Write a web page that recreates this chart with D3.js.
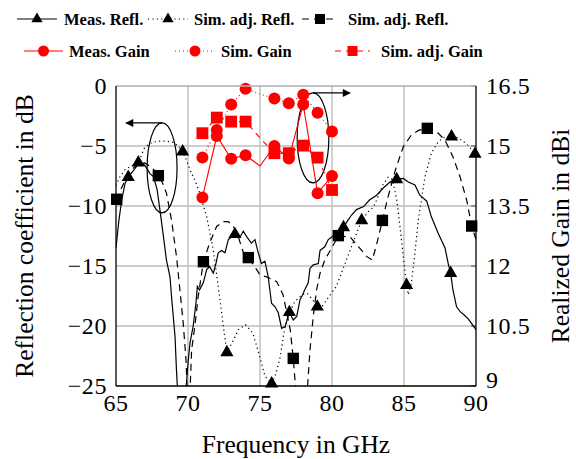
<!DOCTYPE html>
<html>
<head>
<meta charset="utf-8">
<script src="https://cdn.jsdelivr.net/npm/d3@7"></script>
<style>
body { margin: 0; background: #fff; }
text { font-family: "Liberation Serif", "DejaVu Serif", serif; }
</style>
</head>
<body>
<div class="chart"></div>
<script>
var width = 576;
var height = 459;

// data
var measReflF = [65.0, 65.2, 65.4, 65.63, 65.97, 66.3, 66.67, 67.0, 67.36, 67.6, 67.85, 68.06, 68.3, 68.5, 68.75, 68.86, 69.1, 69.2, 69.35, 69.75, 70.0, 70.14, 70.36, 70.55, 70.65, 70.8, 71.06, 71.3, 71.5, 71.76, 71.94, 72.1, 72.34, 72.57, 72.8, 73.0, 73.26, 73.37, 73.6, 73.84, 74.1, 74.4, 74.65, 74.88, 75.1, 75.34, 75.57, 75.8, 76.04, 76.27, 76.5, 76.74, 77.04, 77.31, 77.55, 77.78, 77.96, 78.1, 78.35, 78.47, 78.7, 79.05, 79.17, 79.5, 79.74, 79.97, 80.2, 80.44, 80.8, 81.1, 81.36, 81.7, 82.2, 82.6, 83.1, 83.56, 84.03, 84.49, 84.95, 85.3, 85.76, 86.1, 86.58, 86.9, 87.38, 87.85, 88.07, 88.24, 88.4, 88.65, 88.9, 89.2, 89.46, 89.7, 90.0];
var measReflDb = [-13.5, -11.2, -9.5, -8.1, -7.4, -6.9, -6.3, -6.6, -7.3, -7.55, -8.6, -10.4, -12.6, -14.5, -15.9, -17.6, -20.9, -23.7, -27, -27, -23.1, -21.4, -20, -18.1, -16.7, -17, -16.4, -15.3, -15.05, -15.6, -14.8, -13.9, -13.7, -13.9, -12.8, -12.6, -12.36, -12.1, -12.6, -12.1, -12.6, -13.1, -12.8, -13.9, -14.8, -14.6, -15.9, -18.1, -18.4, -18.9, -20.2, -20.05, -18.86, -19.5, -19.2, -17.8, -17.4, -17, -16.4, -15.2, -14.9, -14.8, -13.7, -13.4, -12.8, -12.6, -12.3, -12.1, -11.78, -11.2, -10.75, -10.3, -10.05, -9.5, -9.1, -8.5, -8.0, -7.78, -7.7, -8.0, -8.25, -9.1, -9.6, -10.9, -12.3, -13.5, -14.8, -15.6, -17, -18.4, -18.8, -19.1, -19.4, -19.8, -20.3];
var measReflMarkF = [65.85, 73.26, 77.04, 80.8, 84.49, 88.24];
var measReflMarkDb = [-7.6, -12.36, -18.86, -11.78, -7.78, -15.6];

var simReflF = [65.0, 65.3, 65.6, 66.0, 66.55, 67.0, 67.5, 68.0, 68.5, 69.0, 69.3, 69.63, 69.9, 70.14, 70.5, 70.8, 71.3, 71.76, 72.2, 72.45, 72.7, 73.15, 73.5, 74.0, 74.5, 75.0, 75.35, 75.81, 76.1, 76.4, 76.7, 77.0, 77.4, 77.9, 78.3, 78.7, 78.98, 79.3, 79.7, 80.3, 81.0, 81.7, 82.06, 82.5, 82.87, 83.1, 83.5, 83.9, 84.2, 84.5, 84.7, 84.95, 85.18, 85.3, 85.5, 85.76, 85.99, 86.45, 86.9, 87.4, 87.9, 88.3, 88.7, 89.1, 89.5, 89.93, 90.0];
var simReflDb = [-8.3, -7.5, -7.0, -6.7, -6.39, -5.1, -4.7, -4.6, -4.6, -4.7, -5.0, -5.47, -6.2, -7.0, -7.9, -8.9, -10.9, -13.7, -17.6, -20.0, -22.2, -21.2, -20.3, -19.9, -20.6, -22.6, -24.2, -24.8, -24.0, -22.6, -20.3, -19.0, -18.0, -17.4, -17.3, -17.9, -18.4, -18.4, -17.7, -16.7, -14.5, -12.3, -11.2, -10.5, -10.1, -9.5, -8.3, -7.6, -7.8, -9.5, -11.5, -14.2, -16.6, -17.4, -16.5, -13.9, -11.2, -7.6, -5.6, -4.6, -4.2, -4.22, -4.3, -4.6, -5.0, -5.67, -5.8];
var simReflMarkF = [66.55, 69.63, 72.7, 75.81, 78.98, 82.06, 85.18, 88.3, 89.93];
var simReflMarkDb = [-6.39, -5.47, -22.2, -24.8, -18.4, -11.2, -16.6, -4.22, -5.67];

var adjReflF = [65.0, 65.5, 66.0, 66.5, 67.0, 67.5, 67.94, 68.2, 68.5, 68.86, 69.2, 69.44, 69.67, 69.86, 69.95, 70.14, 70.25, 70.5, 70.7, 70.95, 71.07, 71.5, 71.99, 72.45, 72.8, 73.15, 73.5, 73.85, 74.19, 74.77, 75.0, 75.46, 76.16, 76.6, 77.1, 77.31, 77.43, 77.5, 78.28, 78.47, 78.7, 78.93, 79.17, 79.5, 80.09, 80.44, 81.27, 82.06, 82.4, 82.8, 83.1, 83.5, 83.9, 84.4, 84.95, 85.5, 86.0, 86.62, 87.26, 87.84, 88.4, 88.9, 89.35, 89.7, 90.0];
var adjReflDb = [-9.5, -8.2, -7.1, -6.5, -6.4, -6.8, -7.47, -8.0, -8.9, -11.2, -14.2, -17, -19.8, -22.8, -25.5, -25.5, -22, -19.8, -17.6, -15.6, -14.64, -13.1, -11.7, -11.3, -11.3, -11.7, -12.6, -13.9, -14.3, -15.3, -15.75, -15.9, -16.3, -17.4, -20.3, -22.7, -24.5, -25.5, -25.5, -22, -19.2, -17, -15.6, -14.5, -13.25, -12.47, -12.6, -13.7, -14.2, -14.5, -13.2, -11.2, -9.2, -7.0, -5.06, -4.1, -3.7, -3.53, -3.8, -4.5, -5.9, -7.6, -9.5, -11.67, -12.8];
var adjReflMarkF = [65.05, 67.94, 71.07, 74.19, 77.31, 80.44, 83.5, 86.62, 89.7];
var adjReflMarkDb = [-9.44, -7.47, -14.64, -14.3, -22.7, -12.47, -11.2, -3.53, -11.67];

// gain curves (right axis), one point per GHz, no marker at 75 GHz
var gainF = [71, 72, 73, 74, 75, 76, 77, 78, 79, 80];
var measGain = [13.71, 15.25, 14.68, 14.77, 14.5, 15.0, 14.69, 16.04, 13.82, 14.25];
var simGain = [14.71, 15.4, 16.04, 16.43, 16.3, 16.19, 16.07, 16.28, 15.83, 15.36];
var simAdjGain = [15.32, 15.71, 15.61, 15.61, 15.2, 14.82, 14.82, 15.01, 14.71, 13.9];
var gainNoMark = [75];

// ticks
var xTicks = [65, 70, 75, 80, 85, 90];
var yTicks = [0, -5, -10, -15, -20, -25];
var y2Ticks = [16.5, 15, 13.5, 12, 10.5, 9];

// annotation ellipses: centre f, centre dB, half width GHz, half height dB, arrow end f
var ellF = [68.2, 78.68];
var ellDb = [-6.83, -4.33];
var ellRf = [1.04, 1.1];
var ellRdb = [3.75, 3.75];
var arrowToF = [65.7, 81.25];

var pLeft = 116, pRight = 476, pTop = 86, pBottom = 386;

var x = d3.scaleLinear().domain([65, 90]).range([pLeft, pRight]);
var y = d3.scaleLinear().domain([-25, 0]).range([pBottom, pTop]);
var y2 = d3.scaleLinear().domain([9, 16.5]).range([pBottom, pTop]);

var svg = d3.select('.chart').append('svg')
	.attr('width', width)
	.attr('height', height);

var defs = svg.append('defs');
defs.append('clipPath').attr('id', 'plot')
	.append('rect')
	.attr('x', pLeft).attr('y', pTop)
	.attr('width', pRight - pLeft).attr('height', pBottom - pTop);

defs.append('marker')
	.attr('id', 'arrow')
	.attr('viewBox', '0 0 10 10')
	.attr('refX', 9).attr('refY', 5)
	.attr('markerWidth', 9).attr('markerHeight', 8)
	.attr('markerUnits', 'userSpaceOnUse')
	.attr('orient', 'auto')
	.append('path').attr('d', 'M0,0 L10,5 L0,10 Z').attr('fill', '#000');

// grid
var grid = svg.append('g').attr('stroke', '#bdbdbd').attr('stroke-width', 1.4);
grid.selectAll('line.gx').data(xTicks.slice(1, -1)).enter().append('line')
	.attr('x1', d => x(d)).attr('x2', d => x(d))
	.attr('y1', pTop).attr('y2', pBottom);
grid.selectAll('line.gy').data(yTicks.slice(0, -1)).enter().append('line')
	.attr('x1', pLeft).attr('x2', pRight)
	.attr('y1', d => y(d)).attr('y2', d => y(d));

// right axis ticks (inward)
svg.append('g').selectAll('line').data(y2Ticks).enter().append('line')
	.attr('x1', pRight - 5).attr('x2', pRight)
	.attr('y1', d => y2(d)).attr('y2', d => y2(d))
	.attr('stroke', '#555').attr('stroke-width', 1);

// reflection curves
var reflLine = d3.line().x(d => x(d[0])).y(d => y(d[1]));
var curves = svg.append('g').attr('clip-path', 'url(#plot)').attr('fill', 'none').attr('stroke', '#000');

curves.append('path')
	.attr('d', reflLine(d3.zip(measReflF, measReflDb)))
	.attr('stroke-width', 1.2);
curves.append('path')
	.attr('d', reflLine(d3.zip(simReflF, simReflDb)))
	.attr('stroke-width', 1.2)
	.attr('stroke-dasharray', '1.2,3.2');
curves.append('path')
	.attr('d', reflLine(d3.zip(adjReflF, adjReflDb)))
	.attr('stroke-width', 1.2)
	.attr('stroke-dasharray', '7,5');

var tri = d3.symbol().type(d3.symbolTriangle).size(75);
var sq = d3.symbol().type(d3.symbolSquare).size(130);
var redSq = d3.symbol().type(d3.symbolSquare).size(140);

function drawMarks(g, fs, vs, sym, color, yScale) {
	g.selectAll(null).data(d3.zip(fs, vs)).enter().append('path')
		.attr('d', sym)
		.attr('transform', d => 'translate(' + x(d[0]) + ',' + yScale(d[1]) + ')')
		.attr('fill', color);
}

var marks = svg.append('g');
drawMarks(marks, measReflMarkF, measReflMarkDb, tri, '#000', y);
drawMarks(marks, simReflMarkF, simReflMarkDb, tri, '#000', y);
drawMarks(marks, adjReflMarkF, adjReflMarkDb, sq, '#000', y);

// ellipses and arrows
var ann = svg.append('g').attr('fill', 'none').attr('stroke', '#000').attr('stroke-width', 1.2);
ellF.forEach(function(f, i) {
	var cx = x(f), cy = y(ellDb[i]);
	var rx = x(f + ellRf[i]) - cx, ry = y(ellDb[i] - ellRdb[i]) - cy;
	ann.append('ellipse').attr('cx', cx).attr('cy', cy).attr('rx', rx).attr('ry', ry);
	ann.append('line')
		.attr('x1', cx).attr('y1', cy - ry)
		.attr('x2', x(arrowToF[i])).attr('y2', cy - ry)
		.attr('marker-end', 'url(#arrow)');
});

// gain curves
var gainLine = d3.line().x(d => x(d[0])).y(d => y2(d[1]));
var red = svg.append('g');
red.append('path')
	.attr('d', gainLine(d3.zip(gainF, measGain)))
	.attr('fill', 'none').attr('stroke', '#f00').attr('stroke-width', 1.1);
red.append('path')
	.attr('d', gainLine(d3.zip(gainF, simGain)))
	.attr('fill', 'none').attr('stroke', '#f00').attr('stroke-width', 1.1)
	.attr('stroke-dasharray', '1,3');
red.append('path')
	.attr('d', gainLine(d3.zip(gainF, simAdjGain)))
	.attr('fill', 'none').attr('stroke', '#f00').attr('stroke-width', 1.1)
	.attr('stroke-dasharray', '6,5');

function keep(series) {
	return d3.zip(gainF, series).filter(d => gainNoMark.indexOf(d[0]) < 0);
}
red.selectAll('circle.m').data(keep(measGain).concat(keep(simGain))).enter().append('circle')
	.attr('cx', d => x(d[0])).attr('cy', d => y2(d[1])).attr('r', 6)
	.attr('fill', '#f00');
red.selectAll('path.sq').data(keep(simAdjGain)).enter().append('path')
	.attr('d', redSq)
	.attr('transform', d => 'translate(' + x(d[0]) + ',' + y2(d[1]) + ')')
	.attr('fill', '#f00');

// axis frame
var frame = svg.append('g').attr('stroke-width', 1.3);
frame.append('line').attr('x1', pLeft).attr('x2', pRight).attr('y1', pTop).attr('y2', pTop).attr('stroke', '#bdbdbd');
frame.append('line').attr('x1', pLeft).attr('x2', pLeft).attr('y1', pTop).attr('y2', pBottom).attr('stroke', '#000');
frame.append('line').attr('x1', pRight).attr('x2', pRight).attr('y1', pTop).attr('y2', pBottom).attr('stroke', '#000');
frame.append('line').attr('x1', pLeft).attr('x2', pRight).attr('y1', pBottom).attr('y2', pBottom).attr('stroke', '#000');

// tick labels
var fmt = d => (d < 0 ? '\u2212' + Math.abs(d) : '' + d);
svg.append('g').selectAll('text').data(yTicks).enter().append('text')
	.attr('x', 107).attr('y', d => y(d) + 8)
	.attr('text-anchor', 'end').attr('font-size', 24).attr('letter-spacing', 0.6)
	.text(fmt);
svg.append('g').selectAll('text').data(y2Ticks).enter().append('text')
	.attr('x', 486).attr('y', d => y2(d) + (d == 9 ? 2 : 8))
	.attr('font-size', 24).attr('letter-spacing', 0.6)
	.text(d => d);
svg.append('g').selectAll('text').data(xTicks).enter().append('text')
	.attr('x', d => x(d)).attr('y', 411)
	.attr('text-anchor', 'middle').attr('font-size', 24).attr('letter-spacing', 0.6)
	.text(d => d);

// axis labels
svg.append('text')
	.attr('transform', 'translate(' + 33 + ',' + (pTop + pBottom) / 2 + ') rotate(-90)')
	.attr('text-anchor', 'middle').attr('font-size', 25.5)
	.text('Reflection coefficient in dB');
svg.append('text')
	.attr('transform', 'translate(' + 569 + ',' + (pTop + pBottom) / 2 + ') rotate(-90)')
	.attr('text-anchor', 'middle').attr('font-size', 25.5)
	.text('Realized Gain in dBi');
svg.append('text')
	.attr('x', (pLeft + pRight) / 2).attr('y', 453)
	.attr('text-anchor', 'middle').attr('font-size', 25.5)
	.text('Frequency in GHz');

// legend
var legendNames = ['Meas. Refl.', 'Sim. adj. Refl.', 'Sim. adj. Refl.', 'Meas. Gain', 'Sim. Gain', 'Sim. adj. Gain'];
var legendColor = ['#000', '#000', '#000', '#f00', '#f00', '#f00'];
var legendDash = [null, '1.2,3.2', '7,5', null, '1,3', '6,5'];
var legendSym = ['tri', 'tri', 'sq', 'circ', 'circ', 'sq'];
var legendX0 = [17, 148, 302, 24, 175, 335];
var legendX1 = [57, 188, 338, 63, 215, 370];
var legendTx = [64, 194, 348, 69, 221, 381];
var legendY = [19, 19, 19, 51, 51, 51];

var lg = svg.append('g');
legendNames.forEach(function(name, i) {
	var c = legendColor[i];
	lg.append('line')
		.attr('x1', legendX0[i]).attr('x2', legendX1[i])
		.attr('y1', legendY[i]).attr('y2', legendY[i])
		.attr('stroke', c).attr('stroke-width', 1.1)
		.attr('stroke-dasharray', legendDash[i]);
	var mx = (legendX0[i] + legendX1[i]) / 2;
	if (legendSym[i] == 'circ') {
		lg.append('circle').attr('cx', mx).attr('cy', legendY[i]).attr('r', 5.5).attr('fill', c);
	} else {
		var s = legendSym[i] == 'tri' ? d3.symbol().type(d3.symbolTriangle).size(55) : d3.symbol().type(d3.symbolSquare).size(100);
		lg.append('path').attr('d', s).attr('transform', 'translate(' + mx + ',' + legendY[i] + ')').attr('fill', c);
	}
	lg.append('text')
		.attr('x', legendTx[i]).attr('y', legendY[i] + 6)
		.attr('font-size', 16.5).attr('font-weight', 'bold')
		.text(name);
});
</script>
</body>
</html>
